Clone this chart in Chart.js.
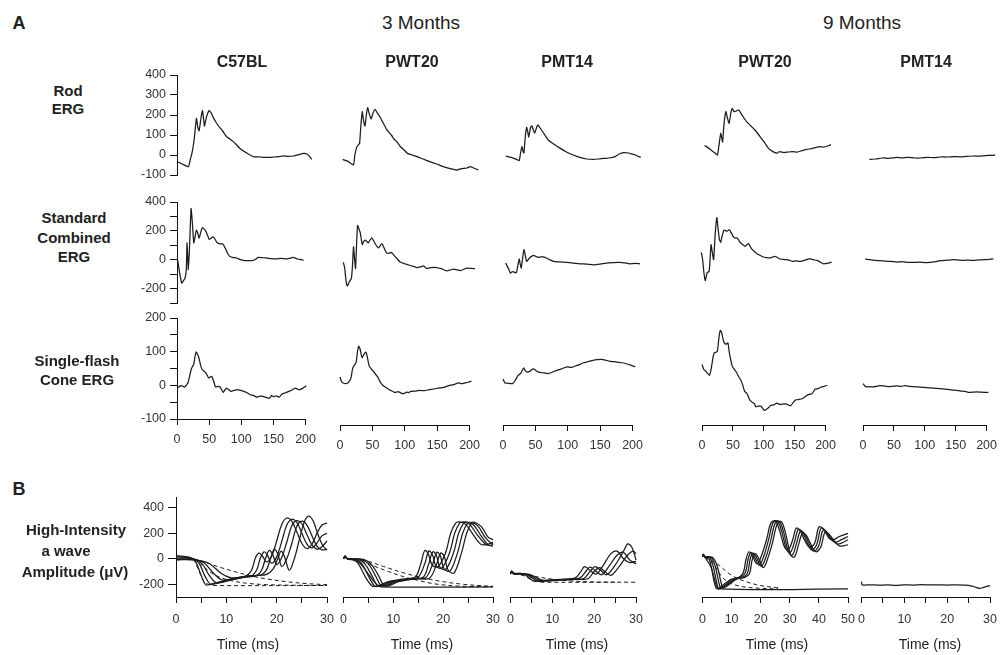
<!DOCTYPE html>
<html>
<head>
<meta charset="utf-8">
<script src="https://cdn.jsdelivr.net/npm/chart.js@4.4.0/dist/chart.umd.min.js"></script>
<style>
  body { margin: 0; background: #fff; width: 1002px; height: 655px; position: relative; overflow: hidden;
         font-family: "Liberation Sans", Arial, sans-serif; color: #222; }
  canvas { position: absolute; }
  .lbl { position: absolute; white-space: nowrap; transform: translate(-50%, -50%); line-height: 1; text-align: center; }
</style>
</head>
<body>
<script>
// ---- data: [time (ms), amplitude (uV)] ----

// Rod ERG
const rodC57_3 = [[0,-33],[8,-45],[17,-58],[20,-20],[22,5],[24,40],[26,88],[29,183],[31,140],[33,121],[36,190],[38,222],[40,170],[41,145],[44,190],[48,222],[51,210],[54,188],[58,165],[62,145],[68,120],[74,92],[79,80],[84,67],[89,50],[94,33],[104,10],[114,-8],[124,-10],[134,-12],[144,-10],[152,-8],[159,-5],[166,-7],[174,-5],[182,2],[189,8],[194,5],[198,-8],[201,-22]];
const rodPWT_3 = [[4,-22],[12,-32],[20,-50],[22,0],[25,42],[27,50],[29,58],[31,150],[33,217],[35,170],[37,145],[39,200],[41,237],[43,210],[46,180],[49,210],[52,228],[55,212],[59,192],[64,160],[69,128],[76,100],[80,80],[84,67],[90,40],[95,25],[100,8],[107,0],[114,-8],[123,-20],[133,-33],[143,-45],[153,-58],[163,-68],[173,-75],[180,-68],[188,-65],[193,-58],[198,-65],[205,-75]];
const rodPMT_3 = [[4,-5],[12,-12],[20,-22],[24,-28],[26,10],[28,42],[30,15],[31,10],[33,90],[35,138],[37,110],[38,90],[41,140],[43,145],[45,125],[47,110],[50,140],[52,150],[55,135],[60,110],[67,75],[75,55],[85,33],[94,15],[104,0],[114,-12],[124,-20],[134,-22],[142,-20],[149,-17],[157,-15],[166,-8],[172,5],[179,12],[186,10],[191,5],[196,0],[204,-12]];
const rodPWT_9 = [[4,48],[12,30],[20,10],[24,0],[26,40],[29,108],[31,80],[32,65],[34,150],[37,217],[39,190],[42,158],[45,215],[47,233],[49,220],[51,217],[54,222],[57,225],[60,210],[64,190],[69,167],[75,148],[82,125],[87,105],[92,83],[97,62],[101,42],[106,25],[113,12],[117,10],[120,17],[127,12],[134,15],[141,17],[148,15],[155,22],[162,28],[170,32],[177,38],[183,42],[188,40],[195,45],[200,52],[204,55]];
const rodPMT_9 = [[10,-22],[20,-20],[30,-15],[40,-17],[52,-12],[60,-14],[70,-12],[80,-15],[89,-15],[100,-12],[110,-13],[120,-10],[130,-10],[140,-8],[150,-9],[160,-7],[172,-5],[180,-6],[190,-3],[198,-2],[205,0]];

// Standard combined ERG
const stdC57_3 = [[0,5],[1,-5],[4,-93],[7,-163],[9,-150],[12,-128],[14,-60],[15,117],[17,-70],[19,120],[21,355],[23,250],[25,117],[27,160],[29,205],[31,185],[33,150],[36,200],[38,222],[41,210],[43,198],[46,165],[48,140],[51,150],[54,159],[57,140],[60,117],[64,110],[68,110],[72,80],[76,40],[79,23],[84,15],[89,12],[94,2],[99,-5],[106,-7],[114,-5],[118,5],[121,16],[127,14],[133,12],[140,8],[148,5],[155,10],[163,5],[168,10],[173,16],[180,5],[186,0],[189,-5]];
const stdPWT_3 = [[5,-19],[7,-58],[9,-150],[11,-182],[13,-160],[15,-145],[17,-128],[18.5,-40],[20,89],[21.5,10],[23,-61],[24.5,100],[26,238],[28,215],[30,187],[33,105],[35,125],[37,135],[40,125],[42,117],[45,140],[47,152],[50,130],[52,112],[55,90],[57,82],[60,100],[62,112],[65,85],[69,47],[73,45],[76,51],[80,30],[85,5],[89,-16],[96,-28],[104,-40],[110,-48],[114,-54],[119,-50],[124,-43],[128,-61],[135,-55],[143,-54],[150,-62],[158,-77],[163,-72],[168,-65],[173,-70],[178,-75],[183,-68],[188,-58],[194,-60],[200,-61],[205,-54]];
const stdPMT_3 = [[4,-23],[8,-60],[11,-93],[13,-85],[15,-82],[18,-90],[20,-88],[22,-40],[24,5],[25.5,-30],[27,-58],[29,10],[31,70],[33,30],[35,-12],[38,5],[40,16],[43,25],[45,30],[48,25],[52,16],[56,20],[60,19],[67,5],[75,-12],[84,-15],[94,-19],[104,-23],[114,-28],[124,-30],[134,-35],[144,-30],[153,-23],[163,-20],[173,-19],[180,-22],[188,-28],[195,-26],[203,-28]];
const stdPWT_9 = [[-1,51],[1,0],[3,-90],[5,-145],[7,-110],[8,-89],[11,-82],[12.5,0],[14,105],[16,50],[18,0],[20.5,180],[23,292],[25,210],[27,140],[29,121],[31,160],[34,205],[37,200],[39,198],[41,205],[43,205],[46,180],[49,156],[52,150],[54,152],[57,135],[59,121],[63,105],[67,93],[70,105],[72,112],[75,90],[77,75],[81,58],[85,42],[90,30],[95,19],[100,15],[105,12],[109,18],[113,23],[117,15],[121,5],[126,2],[131,0],[136,-5],[141,-12],[146,-8],[152,-12],[158,-5],[163,2],[167,7],[172,0],[178,-5],[183,-15],[188,-28],[194,-25],[201,-16]];
const stdPMT_9 = [[3,5],[10,0],[18,-5],[26,-7],[35,-10],[44,-12],[52,-16],[60,-14],[70,-18],[78,-19],[88,-17],[96,-20],[104,-19],[112,-14],[119,-7],[128,-4],[134,-3],[140,0],[148,-2],[156,-4],[164,-3],[171,-5],[180,-1],[188,0],[195,2],[202,5]];

// Single-flash cone ERG
const coneC57_3 = [[0,-8],[4,-3],[7,-1],[10,-4],[12,-5],[15,2],[17,7],[20,30],[22,47],[24,55],[26,62],[28,85],[30,99],[32,92],[34,82],[36,65],[39,47],[42,42],[44,39],[47,30],[49,22],[52,25],[54,27],[57,12],[60,-5],[64,-3],[67,-5],[70,-15],[72,-21],[75,-12],[77,-8],[81,-14],[84,-18],[89,-15],[94,-13],[99,-15],[104,-18],[109,-22],[114,-28],[119,-30],[124,-35],[129,-32],[134,-33],[139,-36],[144,-38],[147,-30],[150,-34],[154,-31],[159,-35],[164,-25],[169,-22],[174,-18],[179,-14],[184,-8],[188,-12],[191,-13],[195,-9],[198,-6],[201,-1]];
const conePWT_3 = [[0,25],[2,12],[5,7],[9,5],[12,7],[15,14],[17,22],[19,45],[21,57],[23,62],[25,69],[27,100],[29,116],[31,108],[34,82],[37,92],[40,99],[42,85],[45,57],[47,52],[49,47],[53,38],[56,30],[59,22],[62,10],[66,0],[72,-8],[78,-15],[84,-21],[90,-19],[95,-24],[99,-24],[103,-20],[106,-22],[109,-18],[116,-17],[123,-15],[130,-16],[138,-13],[145,-11],[153,-8],[160,-6],[168,-1],[175,2],[183,7],[188,5],[193,7],[198,9],[203,12]];
const conePMT_3 = [[0,19],[3,7],[8,6],[15,5],[19,15],[23,29],[27,35],[30,45],[32,52],[34,45],[37,39],[42,42],[45,48],[47,49],[50,45],[55,39],[62,37],[70,35],[77,40],[84,45],[92,50],[99,55],[106,53],[114,59],[119,62],[124,67],[131,70],[139,74],[145,76],[152,77],[158,75],[164,72],[172,70],[179,68],[184,67],[190,64],[197,60],[204,55]];
const conePWT_9 = [[0,62],[3,47],[7,40],[12,29],[15,50],[18,85],[20,97],[23,98],[25,102],[27,135],[29,160],[30,163],[32,155],[34,138],[36,126],[39,122],[42,126],[44,100],[46,80],[49,57],[53,45],[56,38],[59,27],[63,15],[66,0],[69,-18],[73,-25],[77,-43],[81,-50],[85,-55],[87,-64],[91,-62],[95,-62],[98,-68],[101,-75],[104,-72],[108,-66],[111,-60],[116,-58],[121,-53],[126,-57],[131,-56],[136,-55],[140,-59],[144,-60],[148,-50],[152,-43],[157,-42],[162,-40],[167,-34],[173,-27],[178,-25],[183,-12],[188,-10],[193,-5],[198,-3],[203,0]];
const conePMT_9 = [[0,5],[3,-2],[6,-5],[11,-4],[17,-5],[22,-3],[27,-1],[33,-2],[40,-4],[48,-3],[55,-2],[62,-3],[68,-1],[75,-3],[82,-4],[89,-5],[96,-6],[103,-7],[110,-8],[117,-9],[124,-10],[130,-11],[137,-12],[144,-14],[151,-15],[158,-17],[165,-18],[172,-21],[180,-20],[188,-20],[196,-21],[203,-21]];

// High-intensity a wave: recorded traces (solid) and fits (dashed)
const awC57_1 = [[0,25],[1.5,18],[3,8],[4,-30],[5,-130],[5.9,-205],[6.8,-200],[8,-188],[10,-168],[12,-150],[14,-132],[15,-90],[15.8,10],[16.5,45],[17.2,20],[18,-25],[19,20],[20,140],[21,270],[22,320],[23,295],[24,210],[25,120],[26,80],[27,115],[28,200],[29,265],[30,280]];
const awC57_2 = [[0,15],[1.5,12],[3.2,3],[4.5,-30],[5.8,-140],[6.8,-200],[7.8,-196],[9,-185],[11,-165],[13,-148],[15,-135],[16,-90],[16.8,10],[17.5,55],[18.2,25],[19,-35],[20,15],[21,135],[22,265],[23,310],[24,285],[25,200],[26,115],[27,85],[28,125],[29,180],[30,200]];
const awC57_3 = [[0,5],[1.5,5],[3.4,-2],[5,-30],[6.6,-130],[7.8,-185],[8.8,-185],[10,-175],[12,-158],[14,-142],[16,-132],[17,-90],[17.8,5],[18.5,65],[19.2,35],[20,-45],[21,10],[22,130],[23,260],[24,300],[25,275],[26,190],[27,110],[28,75],[29,95],[30,140]];
const awC57_4 = [[0,-5],[1.5,-2],[3.6,-6],[5.5,-30],[7.5,-115],[9,-165],[10,-165],[11.5,-155],[13.5,-142],[15.5,-133],[17,-125],[18,-85],[18.8,5],[19.5,75],[20.2,40],[21,-60],[22,0],[23,120],[24,255],[25,295],[26,265],[27,180],[28,100],[29,70],[30,75]];
const awC57_5 = [[0,-10],[1.5,-6],[3.8,-10],[6.5,-35],[9,-115],[10.8,-148],[12,-148],[14,-138],[16,-130],[18,-122],[19.3,-80],[20.2,0],[20.9,60],[21.6,10],[22.5,-90],[23.5,0],[24.5,150],[25.5,290],[26.3,335],[27.2,300],[28.2,190],[29.2,100],[30,70]];
const awC57_fit1 = [[3.5,0],[4.5,-90],[5.5,-175],[6.5,-203],[7.5,-210],[30,-210]];
const awC57_fit2 = [[3.5,0],[5,-45],[7,-110],[9,-150],[11,-172],[14,-192],[18,-203],[24,-208],[30,-210]];
const awC57_fit3 = [[3.5,0],[6,-30],[9,-70],[12,-105],[15,-135],[18,-158],[22,-180],[26,-195],[30,-203]];

const awPWT3_1 = [[0,0],[0.3,20],[0.8,0],[2,-5],[3,-40],[4.5,-150],[5.8,-215],[7,-210],[9,-180],[11,-165],[13,-155],[14.5,-140],[15.5,-40],[16.3,65],[17,40],[17.8,-50],[19,-60],[20.5,50],[21.5,200],[22.5,280],[23.2,290],[24.5,270],[26,190],[27.5,115],[28.5,110],[30,130]];
const awPWT3_2 = [[0,0],[0.3,20],[0.8,0],[2.5,-5],[3.7,-40],[5.2,-150],[6.3,-215],[7.5,-210],[9.5,-180],[11.5,-165],[13.5,-155],[15,-145],[16.3,-40],[17.1,60],[17.8,35],[18.6,-60],[19.8,-70],[21.3,50],[22.3,200],[23.3,280],[24,290],[25.3,270],[26.8,190],[28.3,120],[29.3,105],[30,115]];
const awPWT3_3 = [[0,0],[0.3,20],[0.8,0],[3,-5],[4.3,-40],[5.8,-140],[6.8,-210],[8,-210],[10,-180],[12,-165],[14,-155],[16,-145],[17.1,-40],[17.9,55],[18.6,30],[19.4,-70],[20.6,-80],[22.1,50],[23.1,200],[24.1,280],[24.8,288],[26.1,265],[27.6,180],[29,110],[30,100]];
const awPWT3_4 = [[0,0],[0.3,18],[0.8,0],[3.5,-5],[5,-40],[6.5,-140],[7.5,-210],[8.5,-210],[10.5,-180],[12.5,-165],[14.5,-155],[16.5,-148],[17.9,-40],[18.7,50],[19.4,25],[20.2,-80],[21.4,-95],[22.9,50],[23.9,200],[24.9,280],[25.6,285],[26.9,260],[28.4,170],[29.5,125],[30,120]];
const awPWT3_5 = [[0,0],[0.3,18],[0.8,0],[4,-5],[5.5,-40],[7,-130],[8,-205],[9,-212],[11,-180],[13,-165],[15,-158],[17.3,-150],[18.7,-40],[19.5,45],[20.2,20],[21,-90],[22.2,-110],[23.7,50],[24.7,200],[25.7,280],[26.4,285],[27.7,250],[29,170],[30,150]];
const awPWT3_floor = [[0.8,0],[3,-25],[5,-120],[6.5,-195],[7.5,-220],[30,-220]];
const awPWT3_fit1 = [[0.8,0],[3,-10],[6,-55],[9,-100],[12,-140],[15,-170],[18,-195],[22,-212],[26,-218],[30,-220]];
const awPWT3_fit2 = [[0.8,0],[4,-10],[8,-60],[12,-110],[16,-150],[20,-180],[24,-200],[28,-212],[30,-216]];

const awPMT3_1 = [[0,-115],[0.3,-100],[0.8,-115],[3,-118],[4.5,-150],[5.5,-175],[7,-170],[10,-165],[13,-160],[15.5,-150],[16.8,-100],[17.7,-62],[19,-90],[20.5,-120],[22,-60],[24,40],[25.5,60],[27,0],[28.5,-30],[30,-20]];
const awPMT3_2 = [[0,-110],[0.3,-95],[0.8,-112],[3.5,-118],[5.2,-150],[6.5,-176],[8,-172],[11,-166],[14,-160],[16.5,-152],[18,-100],[19,-65],[20.3,-95],[21.8,-125],[23.5,-60],[25.5,30],[27,50],[28.5,-10],[30,-40]];
const awPMT3_3 = [[0,-120],[0.3,-105],[0.8,-120],[4,-122],[6,-155],[7.5,-176],[9,-172],[12,-166],[15,-160],[17.5,-155],[19,-100],[20.2,-62],[21.5,-90],[23,-125],[25,-50],[27,60],[28,117],[29,90],[30,-10]];
const awPMT3_4 = [[0,-118],[0.3,-102],[0.8,-118],[4.5,-122],[7,-160],[8.5,-175],[10,-172],[13,-166],[16,-162],[18.5,-157],[20,-100],[21.3,-70],[22.5,-100],[24,-130],[26,-60],[28,30],[29.3,60],[30,40]];
const awPMT3_fit1 = [[0.8,-118],[3,-130],[5,-165],[6.5,-180],[7.5,-184],[30,-184]];
const awPMT3_fit2 = [[0.8,-118],[5,-135],[10,-160],[15,-175],[20,-182],[25,-184]];

const awPWT9_1 = [[0,18],[0.3,35],[0.8,15],[2,10],[3,-60],[4,-180],[4.9,-236],[6,-225],[8,-190],[10,-160],[12.5,-145],[14,-110],[15,0],[16,55],[17.2,20],[18.8,-40],[20.5,40],[22,150],[23.5,280],[25,298],[26.5,220],[28.2,90],[29.5,70],[31,150],[32.2,240],[33.5,220],[35,150],[36.8,90],[38.5,120],[40,250],[41.5,235],[43.5,160],[45,150],[47,175],[50,200]];
const awPWT9_2 = [[0,18],[0.3,35],[0.8,15],[2.5,10],[3.7,-60],[4.8,-180],[5.6,-236],[6.8,-222],[9,-185],[11,-158],[13,-145],[14.7,-110],[15.7,0],[16.7,50],[17.9,15],[19.5,-50],[21.2,30],[22.7,150],[24.2,280],[25.7,298],[27.2,215],[28.9,70],[30.2,50],[31.7,140],[32.9,230],[34.2,215],[35.7,140],[37.5,70],[39.2,110],[40.7,240],[42.2,220],[44.2,150],[45.7,130],[47.7,150],[50,175]];
const awPWT9_3 = [[0,18],[0.3,35],[0.8,15],[3,10],[4.4,-60],[5.5,-175],[6.3,-230],[7.5,-220],[9.7,-182],[11.7,-156],[13.7,-145],[15.4,-115],[16.4,0],[17.4,45],[18.6,10],[20.2,-60],[21.9,20],[23.4,140],[24.9,275],[26.4,295],[27.9,205],[29.6,50],[30.9,30],[32.4,130],[33.6,215],[34.9,200],[36.4,130],[38.2,60],[39.9,100],[41.4,225],[42.9,205],[44.9,140],[46.4,115],[48.4,130],[50,150]];
const awPWT9_4 = [[0,18],[0.3,35],[0.8,15],[3.5,10],[5.1,-60],[6.2,-170],[7,-225],[8.2,-218],[10.4,-180],[12.4,-155],[14.4,-148],[16.1,-120],[17.1,-5],[18.1,40],[19.3,5],[20.9,-70],[22.6,15],[24.1,130],[25.6,270],[27.1,292],[28.6,195],[30.3,30],[31.6,15],[33.1,120],[34.3,200],[35.6,185],[37.1,120],[38.9,55],[40.6,90],[42.1,210],[43.6,190],[45.6,130],[47.1,100],[49,105],[50,110]];
const awPWT9_floor = [[0.8,15],[3,-70],[4.5,-190],[5.8,-236],[50,-236]];
const awPWT9_fit1 = [[0.8,15],[4,-50],[7,-150],[10,-195],[14,-220],[20,-232],[26,-236]];
const awPWT9_fit2 = [[0.8,15],[5,-40],[10,-130],[15,-180],[20,-210],[26,-228]];

const awPMT9 = [[0,-180],[0.2,-205],[2,-204],[4,-207],[6,-205],[8,-208],[10,-204],[12,-206],[14,-203],[16,-205],[18,-204],[20,-206],[22,-205],[24,-207],[25.5,-212],[26.8,-225],[27.6,-232],[28.5,-224],[30,-210]];

// axis ticks
const ergTimeTicks = [0, 50, 100, 150, 200];
const awTimeTicks30 = [0, 5, 10, 15, 20, 25, 30];
const awTimeLabels30 = [0, 10, 20, 30];
const awTimeTicks50 = [0, 10, 20, 30, 40, 50];
const rodYTicks = [-100, 0, 100, 200, 300, 400];
const stdYTicks = [-300, -200, -100, 0, 100, 200, 300, 400];
const stdYLabels = [-200, 0, 200, 400];
const coneYTicks = [-100, -50, 0, 50, 100, 150, 200];
const coneYLabels = [-100, 0, 100, 200];
const awYTicks = [-200, 0, 200, 400];

// ---- layout ----
const FONT = '"Liberation Sans", Arial, sans-serif';
Chart.defaults.font.family = FONT;
const PAD = 12, YW = 44;
const INK = '#1c1c1c';

function trace(pts, style) {
  return {
    data: pts,
    borderColor: INK,
    borderWidth: style === 'dash' ? 1 : 1.25,
    borderDash: style === 'dash' ? [4, 3] : [],
    pointRadius: 0,
    tension: style === 'erg' ? 0.15 : 0.35,
    borderJoinStyle: 'round',
    clip: false,
    fill: false
  };
}

function axis(cfg, horizontal) {
  if (!cfg) return { display: false };
  return {
    display: true,
    afterBuildTicks: s => { s.ticks = cfg.ticks.map(v => ({ value: v })); },
    afterFit: s => { if (horizontal) s.height = cfg.size; else s.width = cfg.size; },
    ticks: {
      autoSkip: false, maxRotation: 0, color: '#333',
      font: { size: 12.5 }, padding: cfg.pad,
      callback: v => (cfg.labels || cfg.ticks).includes(v) ? String(v) : ''
    },
    grid: { display: true, drawOnChartArea: false, drawTicks: true, tickLength: cfg.tick || 6, color: '#111', lineWidth: 1 },
    border: { display: true, color: '#111', width: 1 }
  };
}

// g: x0 (px of t=0), k (px per ms), xmax, top, bottom, ymin, ymax, x / y axis configs
function panel(g, sets) {
  const yw = g.y ? YW : 0;
  const xh = g.x ? g.x.size : 0;
  const w = g.k * g.xmax, h = g.bottom - g.top;
  const c = document.createElement('canvas');
  c.width = Math.round(w + yw + 2 * PAD);
  c.height = Math.round(h + xh + 2 * PAD);
  c.style.left = (g.x0 - yw - PAD) + 'px';
  c.style.top = (g.top - PAD) + 'px';
  document.body.appendChild(c);
  if (g.y) g.y.size = YW;
  const xs = axis(g.x, true), ys = axis(g.y, false);
  xs.type = 'linear'; xs.min = 0; xs.max = g.xmax;
  ys.type = 'linear'; ys.min = g.ymin; ys.max = g.ymax;
  new Chart(c, {
    type: 'line',
    data: { datasets: sets },
    options: {
      responsive: false, animation: false, events: [],
      layout: { padding: PAD },
      plugins: { legend: { display: false }, tooltip: { enabled: false } },
      scales: { x: xs, y: ys }
    }
  });
}

function label(html, cx, cy, size, weight, lh) {
  const d = document.createElement('div');
  d.className = 'lbl';
  d.innerHTML = html;
  d.style.left = cx + 'px';
  d.style.top = cy + 'px';
  d.style.fontSize = size + 'px';
  d.style.fontWeight = weight || 'normal';
  if (lh) d.style.lineHeight = lh + 'px';
  document.body.appendChild(d);
}

const ergCols = [{ x0: 177, k: 0.668 }, { x0: 340, k: 0.675 }, { x0: 503, k: 0.673 }, { x0: 702, k: 0.643 }, { x0: 863, k: 0.646 }];
const awCols = [{ x0: 176, k: 5.157, xmax: 30 }, { x0: 343, k: 5.133, xmax: 30 }, { x0: 510, k: 4.333, xmax: 30 },
                { x0: 702, k: 2.993, xmax: 50 }, { x0: 861, k: 4.433, xmax: 30 }];

const rodSets = [rodC57_3, rodPWT_3, rodPMT_3, rodPWT_9, rodPMT_9];
const stdSets = [stdC57_3, stdPWT_3, stdPMT_3, stdPWT_9, stdPMT_9];
const coneSets = [coneC57_3, conePWT_3, conePMT_3, conePWT_9, conePMT_9];

ergCols.forEach((col, i) => {
  panel({ x0: col.x0, k: col.k, xmax: 200, top: 75, bottom: 175, ymin: -100, ymax: 400,
          y: i === 0 ? { ticks: rodYTicks, pad: 4, tick: 7 } : null },
        [trace(rodSets[i], 'erg')]);
  panel({ x0: col.x0, k: col.k, xmax: 200, top: 202, bottom: 302.7, ymin: -300, ymax: 400,
          y: i === 0 ? { ticks: stdYTicks, labels: stdYLabels, pad: 4, tick: 7 } : null },
        [trace(stdSets[i], 'erg')]);
  const bottom = i === 0 ? 419 : 425;
  panel({ x0: col.x0, k: col.k, xmax: 200, top: 318, bottom: bottom, ymin: i === 0 ? -100 : -118, ymax: 200,
          x: { ticks: ergTimeTicks, pad: 7, size: 32, tick: 6 },
          y: i === 0 ? { ticks: coneYTicks, labels: coneYLabels, pad: 4, tick: 7 } : null },
        [trace(coneSets[i], 'erg')]);
});

const awSets = [
  [awC57_1, awC57_2, awC57_3, awC57_4, awC57_5].map(p => trace(p))
    .concat([awC57_fit1, awC57_fit2, awC57_fit3].map(p => trace(p, 'dash'))),
  [awPWT3_1, awPWT3_2, awPWT3_3, awPWT3_4, awPWT3_5, awPWT3_floor].map(p => trace(p))
    .concat([awPWT3_fit1, awPWT3_fit2].map(p => trace(p, 'dash'))),
  [awPMT3_1, awPMT3_2, awPMT3_3, awPMT3_4].map(p => trace(p))
    .concat([awPMT3_fit1, awPMT3_fit2].map(p => trace(p, 'dash'))),
  [awPWT9_1, awPWT9_2, awPWT9_3, awPWT9_4, awPWT9_floor].map(p => trace(p))
    .concat([awPWT9_fit1, awPWT9_fit2].map(p => trace(p, 'dash'))),
  [trace(awPMT9)]
];

awCols.forEach((col, i) => {
  const xt = col.xmax === 50 ? { ticks: awTimeTicks50 } : { ticks: awTimeTicks30, labels: awTimeLabels30 };
  xt.pad = 9; xt.size = 34; xt.tick = 6;
  panel({ x0: col.x0, k: col.k, xmax: col.xmax, top: 497, bottom: 597, ymin: -300, ymax: 485,
          x: xt, y: i === 0 ? { ticks: awYTicks, pad: 4, tick: 8 } : null },
        awSets[i]);
  label('Time (ms)', [248, 422, 577, 777, 930][i], 644, 14);
});

// ---- text ----
label('A', 19, 23, 18, 'bold');
label('B', 19, 489, 18, 'bold');
label('3 Months', 421, 22, 19);
label('9 Months', 862, 22, 19);
label('C57BL', 242, 62, 16, 'bold');
label('PWT20', 412, 62, 16, 'bold');
label('PMT14', 567, 62, 16, 'bold');
label('PWT20', 765, 62, 16, 'bold');
label('PMT14', 926, 62, 16, 'bold');
label('Rod<br>ERG', 68, 100, 15, 'bold', 18);
label('Standard<br>Combined<br>ERG', 74, 237, 15, 'bold', 19.5);
label('Single-flash<br>Cone ERG', 77, 370, 15, 'bold', 18.5);
label('High-Intensity', 76, 529, 15, 'bold');
label('a wave', 66, 550, 15, 'bold');
label('Amplitude (&mu;V)', 75, 571, 15, 'bold');
</script>
</body>
</html>
